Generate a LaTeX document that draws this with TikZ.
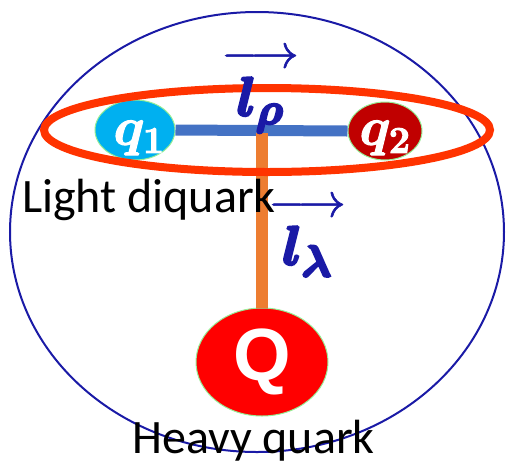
\RequirePackage{fix-cm}
\documentclass[tikz,border=0pt]{standalone}
\usepackage{fontspec}
\usepackage{amsmath}
\usepackage{bm}
\setmainfont{Carlito}
\setsansfont{Liberation Sans}
\usetikzlibrary{shapes.geometric}
\definecolor{outerblue}{RGB}{26,26,166}
\definecolor{ringred}{RGB}{255,51,0}
\definecolor{qcyan}{RGB}{0,176,240}
\definecolor{qdarkred}{RGB}{192,0,0}
\definecolor{barblue}{RGB}{68,114,196}
\definecolor{barorange}{RGB}{237,125,49}
\definecolor{rimgreen}{RGB}{150,238,150}
\newcommand{\heavy}[2]{\special{pdf:literal direct 2 Tr #1 w}#2\special{pdf:literal direct 0 Tr}}
\newcommand{\vecstack}[2]{\begin{tabular}{@{}c@{}}\heavy{0.6}{\fontsize{48}{50}\selectfont$\longrightarrow$}\\[-10pt]\heavy{2.4}{$\bm{#1}_{\mbox{\fontsize{44}{46}\selectfont$\bm{#2}$}}$}\end{tabular}}
\begin{document}
\begin{tikzpicture}[x=1pt,y=-1pt,
  quark/.style={ellipse,draw=rimgreen,line width=1pt,inner sep=0pt},
  qlabel/.style={text=white,font=\fontsize{54}{58}\selectfont,inner sep=0pt},
  lab/.style={anchor=base west,text=black,font=\fontsize{48}{50}\selectfont,inner sep=0pt},
  vec/.style={text=outerblue,font=\fontsize{55}{58}\selectfont,inner sep=0pt}]
\useasboundingbox (0,0) rectangle (512,467);
% outer hadron
\node[ellipse,draw=outerblue,line width=2pt,minimum width=494pt,minimum height=440pt,inner sep=0pt] (hadron) at (257,232) {};
% light quarks
\node[quark,fill=qcyan,minimum width=80pt,minimum height=60pt] (q1) at (135,130) {};
\node[quark,fill=qdarkred,minimum width=74pt,minimum height=58pt] (q2) at (385,131) {};
\node[qlabel] (q1t) at (139,138) {\heavy{1}{$\bm{q_1}$}};
\node[qlabel] (q2t) at (385,138) {\heavy{1}{$\bm{q_2}$}};
% heavy quark
\node[quark,fill=red,minimum width=132pt,minimum height=108pt] (Q) at (262,362) {};
% bars
\coordinate (mid) at (262,133);
\draw[barblue,line width=11pt] (q1.east) -- (q2.west);
\draw[barorange,line width=12pt] (mid) -- (Q.north);
\node[text=white,font=\sffamily\bfseries\fontsize{74}{78}\selectfont,inner sep=0pt] (Qt) at (262,362) {Q};
% diquark ring
\node[ellipse,draw=ringred,line width=8pt,minimum width=446pt,minimum height=84pt,inner sep=0pt] (ring) at (267,130) {};
% vectors
\node[vec] (lrho) at (260,80) {\vecstack{l}{\rho}};
\node[vec] (llam) at (307,229) {\vecstack{l}{\lambda}};
% labels
\node[lab] (ld) at (22,212) {Light diquark};
\node[lab] (hq) at (132,453) {Heavy quark};
\end{tikzpicture}
\end{document}
